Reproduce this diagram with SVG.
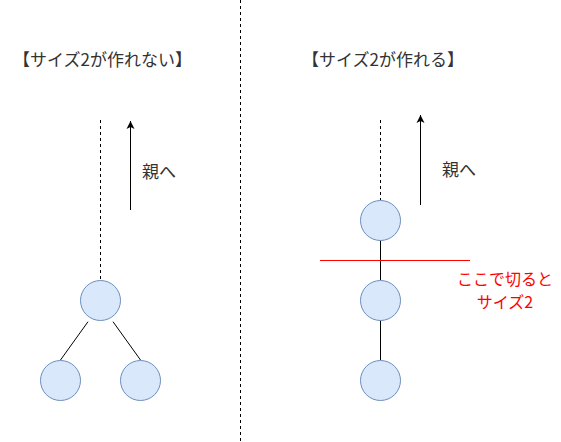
<svg xmlns="http://www.w3.org/2000/svg" width="561" height="442" viewBox="0 0 561 442">
<defs>
<style>
.t{font-family:"Noto Sans CJK JP","Noto Sans",sans-serif;font-size:17px;fill:#333}
.r{font-family:"Noto Sans CJK JP","Noto Sans",sans-serif;font-size:16px;fill:#FF0000;text-anchor:middle}
.n{fill:#dae8fc;stroke:#6c8ebf;stroke-width:1}
.e{stroke:#000;stroke-width:1;fill:none}
.d{stroke:#000;stroke-width:1;stroke-dasharray:3 3;fill:none}
</style>
<marker id="ah" markerWidth="10" markerHeight="10" refX="9" refY="5" orient="auto" markerUnits="userSpaceOnUse">
<path d="M1,1 L9,5 L1,9 L3,5 Z" fill="#000"/>
</marker>
</defs>
<rect width="561" height="442" fill="#fff"/>
<g id="connectors">
<line class="d" x1="240.5" y1="0" x2="240.5" y2="442"/>
<line class="d" x1="100.5" y1="120" x2="100.5" y2="280"/>
<line class="e" x1="130.5" y1="210" x2="130.5" y2="121" marker-end="url(#ah)"/>
<line class="e" x1="88" y1="321.7" x2="60.5" y2="360"/>
<line class="e" x1="113" y1="321.7" x2="140.5" y2="360"/>
<line class="d" x1="380.5" y1="120" x2="380.5" y2="200"/>
<line class="e" x1="420.5" y1="205" x2="420.5" y2="115" marker-end="url(#ah)"/>
<line class="e" x1="380.5" y1="240" x2="380.5" y2="280"/>
<line class="e" x1="380.5" y1="320" x2="380.5" y2="360"/>
<line x1="320" y1="260.5" x2="470" y2="260.5" stroke="#FF0000" stroke-width="1"/>
</g>
<g id="title-left"><text class="t" x="13" y="66">【サイズ2が作れない】</text></g>
<g id="title-right"><text class="t" x="302" y="66">【サイズ2が作れる】</text></g>
<g id="label-left"><text class="t" x="142" y="178">親へ</text></g>
<g id="label-right"><text class="t" x="442" y="176">親へ</text></g>
<g id="node-l1"><circle class="n" cx="100.5" cy="300.5" r="20"/></g>
<g id="node-l2"><circle class="n" cx="60.5" cy="380.5" r="20"/></g>
<g id="node-l3"><circle class="n" cx="140.5" cy="380.5" r="20"/></g>
<g id="node-r1"><circle class="n" cx="380.5" cy="220.5" r="20"/></g>
<g id="node-r2"><circle class="n" cx="380.5" cy="300.5" r="20"/></g>
<g id="node-r3"><circle class="n" cx="380.5" cy="380.5" r="20"/></g>
<g id="cut-label">
<text class="r" x="505" y="285">ここで切ると</text>
<text class="r" x="505" y="308">サイズ2</text>
</g>
</svg>
